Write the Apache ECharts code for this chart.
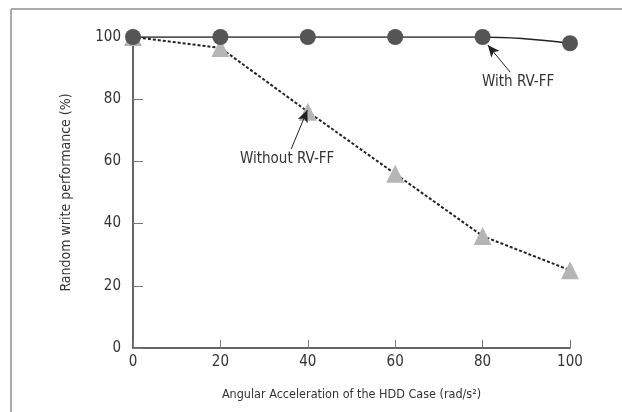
<!DOCTYPE html>
<html><head><meta charset="utf-8">
<script src="https://cdn.jsdelivr.net/npm/echarts@6/dist/echarts.min.js"></script>
<style>html,body{margin:0;padding:0;background:#fff}#c{width:622px;height:412px}</style>
</head><body><div id="c"></div>
<script>
var xValues = [0, 20, 40, 60, 80, 100];
var withRVFF = [100, 100, 100, 100, 100, 98];
var withoutRVFF = [100, 96.5, 76, 56, 36, 25];
var xTicks = [0, 20, 40, 60, 80, 100];
var yTicks = [0, 20, 40, 60, 80, 100];
var FONT = "'DejaVu Sans Condensed', 'Liberation Sans Narrow', 'Liberation Sans', sans-serif";

var chart = echarts.init(document.getElementById('c'), null, {renderer: 'canvas'});
function pairs(v){ return xValues.map(function(x,i){ return [x, v[i]]; }); }
chart.setOption({
  animation: false,
  backgroundColor: '#fff',
  grid: {left: 133, right: 52, top: 37, bottom: 64},
  xAxis: {
    type: 'value', min: 0, max: 100, interval: 20,
    name: 'Angular Acceleration of the HDD Case (rad/s²)',
    nameLocation: 'middle', nameGap: 40,
    nameTextStyle: {fontFamily: FONT, fontSize: 12.5, color: '#333'},
    axisLine: {lineStyle: {color: '#333', width: 1.5}},
    axisTick: {inside: true, length: 8, lineStyle: {color: '#777'}},
    axisLabel: {fontFamily: FONT, fontSize: 15, color: '#333', margin: 7},
    splitLine: {show: false}
  },
  yAxis: {
    type: 'value', min: 0, max: 100, interval: 20,
    name: 'Random write performance (%)',
    nameLocation: 'middle', nameGap: 60, nameRotate: 90,
    nameTextStyle: {fontFamily: FONT, fontSize: 14, color: '#333'},
    axisLine: {show: true, lineStyle: {color: '#333', width: 1.5}},
    axisTick: {show: true, inside: true, length: 10, lineStyle: {color: '#777'}},
    axisLabel: {fontFamily: FONT, fontSize: 15, color: '#333', margin: 12},
    splitLine: {show: false}
  },
  series: [
    {
      type: 'line', name: 'Without RV-FF', data: pairs(withoutRVFF),
      smooth: false, symbol: 'triangle', symbolSize: 18,
      itemStyle: {color: '#b5b5b5'},
      lineStyle: {color: '#222', width: 2, type: [3, 2]},
      z: 2,
      markLine: {
        silent: true, symbol: ['none', 'arrow'], symbolSize: [8, 12],
        label: {show: false},
        lineStyle: {color: '#222', width: 1, type: 'solid'},
        data: [[{coord: [36.2, 64]}, {coord: [39.9, 76.5]}]]
      }
    },
    {
      type: 'line', name: 'With RV-FF', data: pairs(withRVFF),
      smooth: 0.4, symbol: 'circle', symbolSize: 16,
      itemStyle: {color: '#555'},
      lineStyle: {color: '#222', width: 1.5},
      z: 3,
      markLine: {
        silent: true, symbol: ['none', 'arrow'], symbolSize: [8, 12],
        label: {show: false},
        lineStyle: {color: '#222', width: 1, type: 'solid'},
        data: [[{coord: [86.3, 88.7]}, {coord: [81.2, 97.4]}]]
      }
    }
  ],
  graphic: [
    {type: 'line', shape: {x1: 11, y1: 9, x2: 622, y2: 9}, style: {stroke: '#aaa', lineWidth: 2}},
    {type: 'line', shape: {x1: 11, y1: 9, x2: 11, y2: 412}, style: {stroke: '#aaa', lineWidth: 2}},
    {type: 'text', left: 482, top: 75, style: {text: 'With RV-FF', font: '15px ' + FONT, fill: '#333'}},
    {type: 'text', left: 240, top: 152, style: {text: 'Without RV-FF', font: '15px ' + FONT, fill: '#333'}}
  ]
});
</script></body></html>
